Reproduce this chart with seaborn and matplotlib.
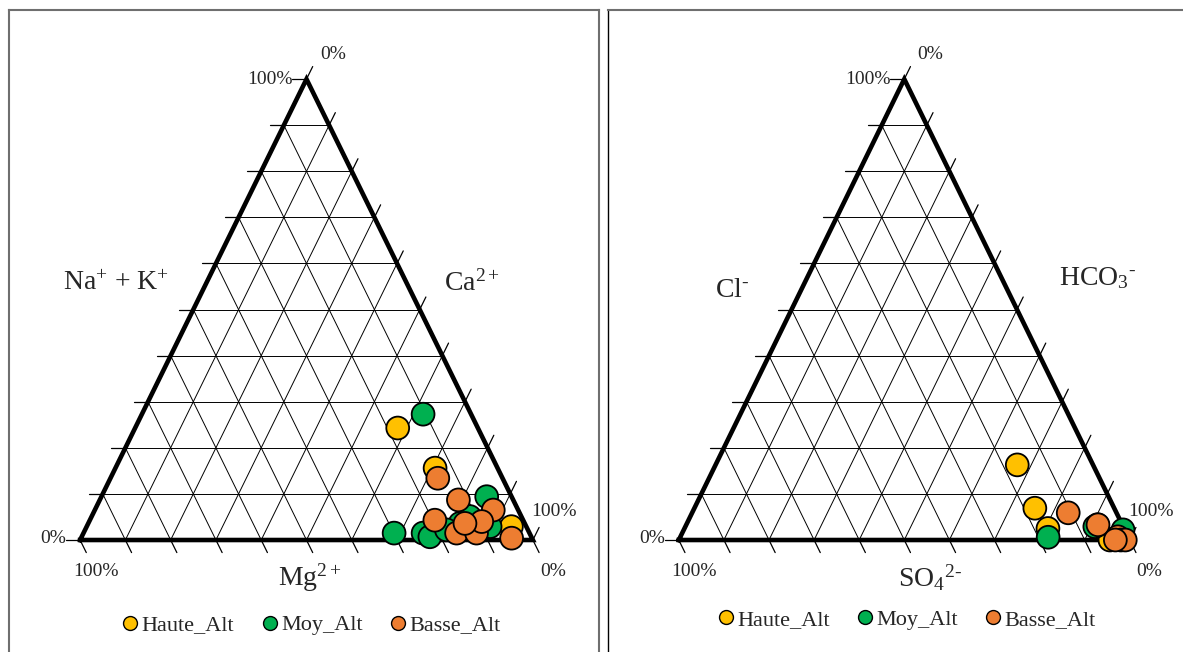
import numpy as np
import pandas as pd
import matplotlib.pyplot as plt
import seaborn as sns
from matplotlib.lines import Line2D

groups = ['Haute_Alt', 'Moy_Alt', 'Basse_Alt']
colors = ['#FFC000', '#00B050', '#ED7D31']

# cations (%) : Na+ + K+ (apex), Ca2+ (right corner); Mg2+ = rest
cat_group = ['Haute_Alt'] * 4 + ['Moy_Alt'] * 9 + ['Basse_Alt'] * 9
cat_nak = [24.3, 15.6, 2.9, 4.8,
           27.3, 9.4, 1.5, 1.5, 0.7, 5.1, 2.9, 3.6, 2.2,
           13.4, 8.7, 4.3, 1.5, 1.5, 6.5, 0.4, 4.0, 3.6]
cat_ca = [58.0, 70.6, 93.8, 83.7,
          62.1, 85.1, 68.6, 75.0, 76.9, 83.5, 89.1, 82.1, 79.8,
          72.3, 79.2, 76.2, 82.4, 86.8, 88.0, 95.1, 86.7, 83.2]

# anions (%) : Cl- (apex), HCO3- (right corner); SO4 2- = rest
an_group = ['Haute_Alt'] * 4 + ['Moy_Alt'] * 4 + ['Basse_Alt'] * 6
an_cl = [16.3, 6.9, 2.5, 0.0,
         0.6, 3.3, 2.9, 2.2,
         5.9, 3.3, 0.7, 0.0, 0.0, 0.0]
an_hco3 = [66.9, 75.5, 80.6, 95.6,
           81.6, 91.2, 90.8, 97.4,
           83.4, 91.3, 97.0, 98.0, 99.0, 96.8]


def to_xy(group, top, right):
    df = pd.DataFrame({'group': group, 'top': top, 'right': right})
    df['x'] = (df['right'] + df['top'] / 2) / 100
    df['y'] = df['top'] / 100
    return df


def draw_ternary(ax, df, titles, title_pos, xlim):
    k = dict(color='black', lw=0.7, zorder=1)
    for i in range(1, 10):
        f = i / 10
        ax.plot([f / 2, 1 - f / 2], [f, f], **k)
        ax.plot([f, (1 + f) / 2], [0, 1 - f], **k)
        ax.plot([1 - f, (1 - f) / 2], [0, 1 - f], **k)
    # ticks
    t = dict(color='black', lw=0.9, zorder=1)
    for i in range(11):
        f = i / 10
        ax.plot([f / 2 - 0.031, f / 2], [f, f], **t)
        ax.plot([f, f + 0.0137], [0, -0.0273], **t)
        ax.plot([1 - f / 2, 1 - f / 2 + 0.0137], [f, f + 0.0273], **t)
    ax.plot([0, 1, 0.5, 0], [0, 0, 1, 0], color='black', lw=3.3, zorder=2,
            solid_joinstyle='miter', solid_capstyle='projecting')

    sns.scatterplot(data=df, x='x', y='y', hue='group', hue_order=groups,
                    palette=colors, s=270, edgecolor='black', linewidth=1.3,
                    legend=False, ax=ax, zorder=3)

    fs = 14
    ax.text(-0.031, 0.003, '0%', ha='right', va='center', fontsize=fs)
    ax.text(0.469, 1.0, '100%', ha='right', va='center', fontsize=fs)
    ax.text(0.034, -0.069, '100%', ha='center', va='center', fontsize=fs)
    ax.text(1.044, -0.068, '0%', ha='center', va='center', fontsize=fs)
    ax.text(1.046, 0.062, '100%', ha='center', va='center', fontsize=fs)
    ax.text(0.558, 1.053, '0%', ha='center', va='center', fontsize=fs)

    for lab, (x, y) in zip(titles, title_pos):
        ax.text(x, y, lab, ha='center', va='center', fontsize=20)

    ax.set_xlim(*xlim)
    ax.set_ylim(-0.243, 1.150)
    ax.set_xticks([])
    ax.set_yticks([])
    ax.set_xlabel('')
    ax.set_ylabel('')


sns.set_style('white')
plt.rcParams['font.family'] = ['Liberation Serif', 'DejaVu Serif']
plt.rcParams['mathtext.fontset'] = 'custom'
plt.rcParams['mathtext.rm'] = 'Liberation Serif'
plt.rcParams['mathtext.it'] = 'Liberation Serif:italic'

fig = plt.figure(figsize=(11.83, 6.52), dpi=100)
ax1 = fig.add_axes([9 / 1183, 0, 590 / 1183, 642 / 652])
ax2 = fig.add_axes([608 / 1183, 0, 575 / 1183, 642 / 652])

draw_ternary(ax1, to_xy(cat_group, cat_nak, cat_ca),
             [r'Na$^{+}$ + K$^{+}$', r'Ca$^{2+}$', r'Mg$^{2+}$'],
             [(0.079, 0.557), (0.865, 0.557), (0.508, -0.082)],
             (-0.157, 1.146))
draw_ternary(ax2, to_xy(an_group, an_cl, an_hco3),
             ['Cl$^{\u2010}$', 'HCO$_{3}$$^{\u2010}$', 'SO$_{4}$$^{2\u2010}$'],
             [(0.118, 0.542), (0.929, 0.568), (0.557, -0.082)],
             (-0.157, 1.118))

for ax in [ax1, ax2]:
    for s in ax.spines.values():
        s.set_color('#6f6f6f')
        s.set_linewidth(1.5)
    ax.spines['bottom'].set_visible(False)
ax2.spines['right'].set_visible(False)
ax2.spines['left'].set_color('black')
ax2.spines['left'].set_linewidth(1.0)

handles = [Line2D([], [], marker='o', ls='', markersize=10, markerfacecolor=c,
                  markeredgecolor='black', markeredgewidth=1.0) for c in colors]
ax1.legend(handles, groups, loc='center', bbox_to_anchor=(0.51, 0.042), ncol=3,
           frameon=False, fontsize=16, handletextpad=0.0, columnspacing=1.1,
           handlelength=1.0)
ax2.legend(handles, groups, loc='center', bbox_to_anchor=(0.517, 0.05), ncol=3,
           frameon=False, fontsize=16, handletextpad=0.0, columnspacing=1.1,
           handlelength=1.0)

fig.savefig('out.png', dpi=100)
